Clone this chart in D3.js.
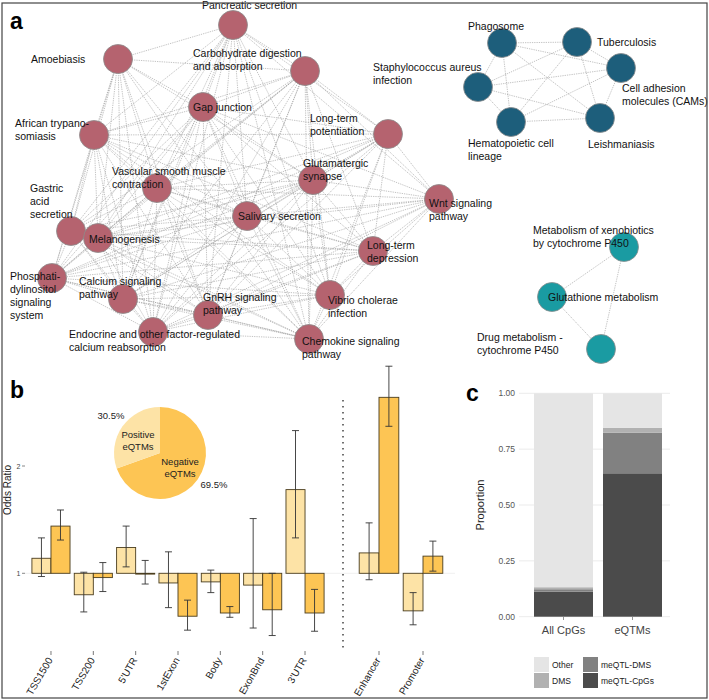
<!DOCTYPE html>
<html>
<head>
<meta charset="utf-8">
<script src="https://cdn.jsdelivr.net/npm/d3@7"></script>
<style>
  body { margin: 0; background: #fff; }
  svg { font-family: "Liberation Sans", Arial, sans-serif; }
</style>
</head>
<body>
<svg id="fig" width="709" height="700"></svg>
<script>
// ---- panel a : pathway network ----
const redNodes = ["Pancreatic secretion", "Amoebiasis", "Carbohydrate digestion|and absorption", "Gap junction",
  "African trypano-|somiasis", "Long-term|potentiation", "Vascular smooth muscle|contraction", "Glutamatergic|synapse",
  "Wnt signaling|pathway", "Salivary secretion", "Gastric|acid|secretion", "Melanogenesis", "Long-term|depression",
  "Phosphati-|dylinositol|signaling|system", "Calcium signaling|pathway", "GnRH signaling|pathway",
  "Vibrio cholerae|infection", "Endocrine and other factor-regulated|calcium reabsorption", "Chemokine signaling|pathway"];
const blueNodes = ["Phagosome", "Tuberculosis", "Staphylococcus aureus|infection", "Cell adhesion|molecules (CAMs)",
  "Hematopoietic cell|lineage", "Leishmaniasis"];
const tealNodes = ["Metabolism of xenobiotics|by cytochrome P450", "Glutathione metabolism", "Drug metabolism -|cytochrome P450"];

// neighbours with a higher index
const redEdges = [
  [1,2,3,4,5,6,7,8,9,10,11,13,14,15,16,17,18],
  [2,3,4,6,7,9,10,11,13,14,15,17,18],
  [3,4,5,6,7,8,9,10,11,12,13,14,15,16,17,18],
  [4,5,6,7,8,9,10,11,12,13,14,15,16,17,18],
  [5,6,7,9,10,11,12,13,14,15,16,17,18],
  [6,7,8,9,11,12,13,14,15,16,17,18],
  [7,8,9,10,11,12,13,14,15,16,17,18],
  [8,9,10,11,12,13,14,15,16,17,18],
  [9,11,12,13,14,15,16,17,18],
  [10,11,12,13,14,15,16,17,18],
  [11,12,13,14,15,17,18],
  [12,13,14,15,16,17,18],
  [13,14,15,16,17,18],
  [14,15,16,17,18],
  [15,16,17,18],
  [16,17,18],
  [17,18],
  [18],
  []
];
const blueEdges = [[1,2,3,4,5],[2,3,4,5],[3,4,5],[4,5],[5],[]];
const tealEdges = [[1,2],[2],[]];

// ---- panel b : odds ratios ----
const catsLeft = ["TSS1500", "TSS200", "5'UTR", "1stExon", "Body", "ExonBnd", "3'UTR"];
const catsRight = ["Enhancer", "Promoter"];
const posOR = [1.14, 0.80, 1.24, 0.91, 0.92, 0.89, 1.78, 1.19, 0.65];
const posLo = [0.97, 0.64, 1.06, 0.68, 0.82, 0.49, 1.33, 0.94, 0.52];
const posHi = [1.33, 1.01, 1.44, 1.20, 1.03, 1.51, 2.33, 1.47, 0.82];
const negOR = [1.44, 0.96, 1.00, 0.60, 0.63, 0.66, 0.63, 2.64, 1.16];
const negLo = [1.31, 0.83, 0.90, 0.47, 0.59, 0.42, 0.46, 2.37, 1.02];
const negHi = [1.59, 1.10, 1.12, 0.75, 0.69, 1.00, 0.85, 2.93, 1.30];
const pieLabels = ["Negative eQTMs", "Positive eQTMs"];
const pieValues = [69.5, 30.5];
const orTicks = [1, 2];

// ---- panel c : proportions ----
const groups = ["All CpGs", "eQTMs"];
const stackKeys = ["meQTL-CpGs", "meQTL-DMS", "DMS", "Other"];
const meqtlCpGs = [0.112, 0.642];
const meqtlDMS = [0.011, 0.182];
const dms = [0.009, 0.021];
const other = [0.868, 0.155];
const propTicks = [0, 0.25, 0.5, 0.75, 1];

const svg = d3.select("#fig");

// node layout (px) for the drawn network
const layout = {
  red: [[233,25],[118,59],[305,71],[203,107],[94,135],[388,134],[157,188],[313,180],[439,199],[247,216],
        [71,231],[98,238],[373,251],[52,278],[123,299],[208,315],[330,295],[153,332],[309,339]],
  redLab: [[202,9],[31,63],[193,57],[193,111],[15,127],[310,122],[112,175],[303,167],[429,207],[238,220],
           [30,192],[89,243],[367,249],[10,280],[79,285],[203,301],[328,304],[69,338],[302,345]],
  blue: [[502,43],[577,42],[478,87],[621,68],[511,122],[600,118]],
  blueLab: [[468,30],[597,46],[373,71],[622,92],[468,147],[588,148]],
  teal: [[624,247],[552,297],[601,349]],
  tealLab: [[533,234],[548,301],[477,341]]
};

const edgeG = svg.append("g");
const nodeG = svg.append("g");
const labG = svg.append("g");

function drawCluster(names, edges, pos, labPos, fill) {
  let links = [];
  edges.forEach((nb, i) => nb.forEach(j => links.push([i, j])));
  edgeG.selectAll(null).data(links).enter().append("line")
    .attr("x1", d => pos[d[0]][0]).attr("y1", d => pos[d[0]][1])
    .attr("x2", d => pos[d[1]][0]).attr("y2", d => pos[d[1]][1])
    .attr("stroke", "#9a9a9a").attr("stroke-width", 0.6)
    .attr("stroke-dasharray", "1.3,1");
  nodeG.selectAll(null).data(names).enter().append("circle")
    .attr("cx", (d, i) => pos[i][0]).attr("cy", (d, i) => pos[i][1])
    .attr("r", 14.5).attr("fill", fill).attr("stroke", "#8c8c8c").attr("stroke-width", 0.8);
  names.forEach((n, i) => {
    const t = labG.append("text").attr("x", labPos[i][0]).attr("y", labPos[i][1])
      .attr("font-size", 10.5).attr("fill", "#111");
    n.split("|").forEach((line, k) => {
      t.append("tspan").attr("x", labPos[i][0]).attr("dy", k == 0 ? 0 : 13).text(line);
    });
  });
}
drawCluster(redNodes, redEdges, layout.red, layout.redLab, "#b5636f");
drawCluster(blueNodes, blueEdges, layout.blue, layout.blueLab, "#1d5e7b");
drawCluster(tealNodes, tealEdges, layout.teal, layout.tealLab, "#1a9ba2");

// ---- panel b ----
const lightY = "#fde3a6", darkY = "#fdc554";
const yb = d3.scaleLinear().domain([1, 2]).range([573.3, 466]);
const xL = d3.scaleBand().domain(catsLeft).range([29.8, 326.2]);
const xR = d3.scaleBand().domain(catsRight).range([357, 445]);
const allCats = catsLeft.concat(catsRight);
const bx = c => catsLeft.includes(c) ? xL : xR;

svg.append("line").attr("x1", 25).attr("x2", 455).attr("y1", yb(1)).attr("y2", yb(1))
  .attr("stroke", "#ececec").attr("stroke-width", 0.8);

const barsB = svg.append("g");
allCats.forEach((c, i) => {
  const sc = bx(c);
  const sub = d3.scaleBand().domain(["pos", "neg"]).range([sc(c) + 0.05 * sc.bandwidth(), sc(c) + 0.95 * sc.bandwidth()]);
  [["pos", posOR[i], posLo[i], posHi[i], lightY], ["neg", negOR[i], negLo[i], negHi[i], darkY]].forEach(b => {
    const x0 = sub(b[0]), w = sub.bandwidth();
    barsB.append("rect").attr("x", x0).attr("width", w)
      .attr("y", Math.min(yb(1), yb(b[1]))).attr("height", Math.max(0.8, Math.abs(yb(b[1]) - yb(1))))
      .attr("fill", b[4]).attr("stroke", "#4a3d1e").attr("stroke-width", 0.9);
    const cx = x0 + w / 2;
    barsB.append("line").attr("x1", cx).attr("x2", cx).attr("y1", yb(b[2])).attr("y2", yb(b[3]))
      .attr("stroke", "#333").attr("stroke-width", 0.9);
    [b[2], b[3]].forEach(v => barsB.append("line").attr("x1", cx - 3.5).attr("x2", cx + 3.5)
      .attr("y1", yb(v)).attr("y2", yb(v)).attr("stroke", "#333").attr("stroke-width", 0.9));
  });
  const cx = sc(c) + sc.bandwidth() / 2;
  barsB.append("line").attr("x1", cx).attr("x2", cx).attr("y1", 651).attr("y2", 655)
    .attr("stroke", "#555").attr("stroke-width", 0.8);
  barsB.append("text").attr("transform", `translate(${cx + 2},${660}) rotate(-60)`)
    .attr("text-anchor", "end").attr("font-size", 10).attr("fill", "#222").text(c);
});

// y ticks
orTicks.forEach(t => {
  svg.append("line").attr("x1", 22).attr("x2", 25).attr("y1", yb(t)).attr("y2", yb(t)).attr("stroke", "#555").attr("stroke-width", 0.7);
  svg.append("text").attr("x", 20.5).attr("y", yb(t) + 2.5).attr("text-anchor", "end")
    .attr("font-size", 7).attr("fill", "#444").text(t);
});
svg.append("text").attr("transform", "translate(11,490) rotate(-90)").attr("text-anchor", "middle")
  .attr("font-size", 10).attr("fill", "#222").text("Odds Ratio");

// dotted separator
svg.append("line").attr("x1", 343).attr("x2", 343).attr("y1", 400).attr("y2", 652)
  .attr("stroke", "#111").attr("stroke-width", 1.2).attr("stroke-dasharray", "1.5,4.5");

// pie
const pie = d3.pie().sort(null)(pieValues);
const arc = d3.arc().innerRadius(0).outerRadius(46);
const pieG = svg.append("g").attr("transform", "translate(160,453)");
pieG.selectAll("path").data(pie).enter().append("path")
  .attr("d", arc).attr("fill", (d, i) => i == 0 ? darkY : lightY);
pieG.append("text").attr("x", -49).attr("y", -34).attr("text-anchor", "middle").attr("font-size", 9.5).attr("fill", "#222").text(pieValues[1] + "%");
pieG.append("text").attr("x", 54).attr("y", 35).attr("text-anchor", "middle").attr("font-size", 9.5).attr("fill", "#222").text(pieValues[0] + "%");
[[pieLabels[1], -22, -15], [pieLabels[0], 20, 12]].forEach(p => {
  const w = p[0].split(" ");
  pieG.append("text").attr("x", p[1]).attr("y", p[2]).attr("text-anchor", "middle").attr("font-size", 9.5).attr("fill", "#222").text(w[0]);
  pieG.append("text").attr("x", p[1]).attr("y", p[2] + 12).attr("text-anchor", "middle").attr("font-size", 9.5).attr("fill", "#222").text(w[1]);
});

// ---- panel c ----
const yc = d3.scaleLinear().domain([0, 1]).range([616.7, 393.3]);
const xc = d3.scalePoint().domain(groups).range([563.5, 632.5]);
const barW = 59;
const greys = { "Other": "#e5e5e5", "DMS": "#b1b1b1", "meQTL-DMS": "#818181", "meQTL-CpGs": "#4b4b4b" };

propTicks.forEach(t => {
  svg.append("line").attr("x1", 519).attr("x2", 670).attr("y1", yc(t)).attr("y2", yc(t))
    .attr("stroke", "#e6e6e6").attr("stroke-width", 0.8);
  svg.append("text").attr("x", 515).attr("y", yc(t) + 3).attr("text-anchor", "end")
    .attr("font-size", 8.5).attr("fill", "#555").text(d3.format(".2f")(t));
});
const rows = groups.map((g, i) => ({ g: g, "meQTL-CpGs": meqtlCpGs[i], "meQTL-DMS": meqtlDMS[i], "DMS": dms[i], "Other": other[i] }));
const stacked = d3.stack().keys(stackKeys)(rows);
stacked.forEach(layer => {
  svg.append("g").selectAll("rect").data(layer).enter().append("rect")
    .attr("x", d => xc(d.data.g) - barW / 2).attr("width", barW)
    .attr("y", d => yc(d[1])).attr("height", d => yc(d[0]) - yc(d[1]))
    .attr("fill", greys[layer.key]);
});
groups.forEach(g => {
  svg.append("line").attr("x1", xc(g)).attr("x2", xc(g)).attr("y1", 617).attr("y2", 620).attr("stroke", "#666").attr("stroke-width", 0.7);
  svg.append("text").attr("x", xc(g)).attr("y", 634).attr("text-anchor", "middle").attr("font-size", 11).attr("fill", "#444").text(g);
});
svg.append("text").attr("transform", "translate(484,505) rotate(-90)").attr("text-anchor", "middle")
  .attr("font-size", 11).attr("fill", "#222").text("Proportion");

// legend
const legendItems = [["Other", 534, 657], ["meQTL-DMS", 583, 657], ["DMS", 534, 673], ["meQTL-CpGs", 583, 673]];
legendItems.forEach(l => {
  svg.append("rect").attr("x", l[1]).attr("y", l[2]).attr("width", 15).attr("height", 15).attr("fill", greys[l[0]]);
  svg.append("text").attr("x", l[1] + 18).attr("y", l[2] + 11).attr("font-size", 8.5).attr("fill", "#222").text(l[0]);
});

// panel letters and frame
[["a", 10, 29], ["b", 10, 398], ["c", 466, 401]].forEach(p => {
  svg.append("text").attr("x", p[1]).attr("y", p[2]).attr("font-size", 23).attr("font-weight", "bold").attr("fill", "#000").text(p[0]);
});
svg.append("rect").attr("x", 2).attr("y", 3).attr("width", 705).attr("height", 695)
  .attr("fill", "none").attr("stroke", "#444").attr("stroke-width", 1.2);
</script>
</body>
</html>
